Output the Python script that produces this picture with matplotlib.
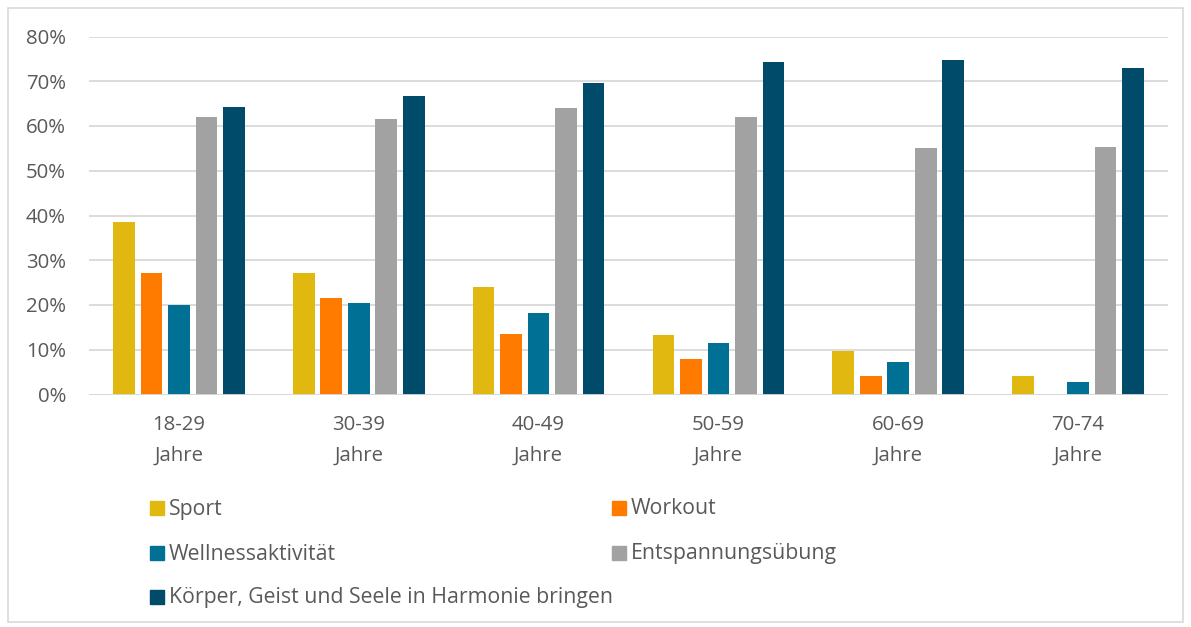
import numpy as np
import matplotlib
matplotlib.use('Agg')
import matplotlib.pyplot as plt
from matplotlib.patches import Rectangle
from matplotlib.ticker import PercentFormatter

plt.rcParams['font.family'] = ['Open Sans', 'DejaVu Sans']

groups = ['18-29\nJahre', '30-39\nJahre', '40-49\nJahre', '50-59\nJahre', '60-69\nJahre', '70-74\nJahre']
series = ['Sport', 'Workout', 'Wellnessaktivität', 'Entspannungsübung',
          'Körper, Geist und Seele in Harmonie bringen']
sport = [38.5, 27.2, 24.0, 13.4, 9.7, 4.1]
workout = [27.2, 21.5, 13.5, 7.9, 4.1, 0.0]
wellness = [19.9, 20.4, 18.2, 11.4, 7.2, 2.7]
entspannung = [61.9, 61.5, 64.1, 61.9, 55.0, 55.2]
koerper = [64.2, 66.7, 69.6, 74.3, 74.8, 72.9]
colors = ['#E1B80F', '#FF7B00', '#017095', '#A3A2A3', '#004B6A']

values = [sport, workout, wellness, entspannung, koerper]
txt = '#595959'

fig = plt.figure(figsize=(11.91, 6.27), dpi=100)
fig.add_artist(Rectangle((8 / 1191, 5 / 627), 1175 / 1191, 614 / 627,
                         transform=fig.transFigure, fill=False,
                         edgecolor='#D9D9D9', linewidth=1.2))

ax = fig.add_axes([89 / 1191, 1 - 394.5 / 627, 1079 / 1191, 358 / 627])
x = np.arange(len(groups))
w = 0.12
step = 0.153
for i, (vals, c, name) in enumerate(zip(values, colors, series)):
    ax.bar(x + (i - 2) * step, np.array(vals) / 100, width=w, color=c,
           label=name, zorder=3)

ax.set_xlim(-0.5, len(groups) - 0.5)
ax.set_ylim(0, 0.8)
ax.set_yticks(np.arange(0, 0.81, 0.1))
ax.yaxis.set_major_formatter(PercentFormatter(1.0, decimals=0))
ax.grid(axis='y', color='#D9D9D9', linewidth=1.3, zorder=0)
ax.set_xticks(x)
ax.set_xticklabels(groups, linespacing=1.7)
for s in ax.spines.values():
    s.set_visible(False)
ax.axhline(0, color='#D9D9D9', linewidth=1.3, zorder=4)
ax.tick_params(axis='both', length=0, colors=txt, labelsize=14.7)
ax.tick_params(axis='x', pad=15)
ax.tick_params(axis='y', pad=16.5)

# legend, two columns
leg_pos = [(150, 508), (612, 508), (150, 553), (612, 553), (150, 597)]
for (px, py), c, name in zip(leg_pos, colors, series):
    fig.add_artist(Rectangle((px / 1191, 1 - (py + 7) / 627), 14 / 1191, 14 / 627,
                             transform=fig.transFigure, color=c))
    fig.text((px + 19) / 1191, 1 - (py + 1) / 627, name, color=txt, fontsize=15.3,
             va='center', ha='left')

fig.savefig('out.png', dpi=100, facecolor='white')
